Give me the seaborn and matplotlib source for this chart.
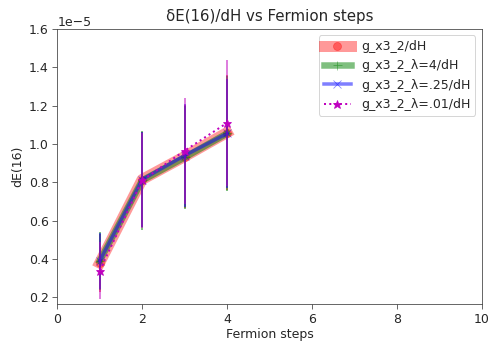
import numpy as np
import matplotlib
matplotlib.use("Agg")
import matplotlib.pyplot as plt
import seaborn as sns

sns.set_style("white")
plt.rcParams['font.family'] = ['DejaVu Sans']
plt.rcParams['font.size'] = 12.5

## Values (units of 1e-5)
steps = [1, 2, 3, 4]
g_base = [0.38, 0.815, 0.935, 1.06]
g_base_err = [0.15, 0.25, 0.27, 0.30]
g_lam4 = [0.39, 0.81, 0.93, 1.055]
g_lam4_err = [0.15, 0.26, 0.27, 0.30]
g_lam025 = [0.39, 0.815, 0.94, 1.055]
g_lam025_err = [0.145, 0.25, 0.27, 0.285]
g_lam001 = [0.34, 0.81, 0.965, 1.11]
g_lam001_err = [0.15, 0.25, 0.276, 0.33]

series = [
    ("g_x3_2/dH", g_base, g_base_err, dict(color="red", lw=11, alpha=0.4, marker="o", markersize=8)),
    ("g_x3_2_λ=4/dH", g_lam4, g_lam4_err, dict(color="green", lw=6.5, alpha=0.5, marker="+", markersize=9)),
    ("g_x3_2_λ=.25/dH", g_lam025, g_lam025_err, dict(color="blue", lw=3.5, alpha=0.5, marker="x", markersize=8)),
    ("g_x3_2_λ=.01/dH", g_lam001, g_lam001_err, dict(color="m", lw=2, alpha=1.0, marker="*", markersize=9, linestyle=":")),
]

fig, ax = plt.subplots(figsize=(489 / 72, 341 / 72), dpi=72)
fig.subplots_adjust(left=0.117, right=0.985, top=0.915, bottom=0.108)

for name, vals, err, style in series:
    y = np.array(vals) * 1e-5
    e = np.array(err) * 1e-5
    ax.errorbar(steps, y, yerr=e, fmt="none", ecolor=style["color"], alpha=0.5, elinewidth=2)
    sns.lineplot(x=steps, y=y, ax=ax, label=name, markeredgecolor=style["color"],
                 solid_capstyle="projecting", **style)

ax.set_xlim(0, 10)
ax.set_ylim(0.165e-5, 1.6e-5)
ax.set_yticks(np.arange(0.2, 1.61, 0.2) * 1e-5)
ax.set_xlabel("Fermion steps", labelpad=2)
ax.set_ylabel("dE(16)")
ax.set_title("δE(16)/dH vs Fermion steps", pad=8)
ax.legend(loc="upper right", handlelength=2.2)
for s in ax.spines.values():
    s.set_color("#444444")
ax.tick_params(axis="both", length=5, direction="out", bottom=True, left=True, color="#444444")

fig.savefig("out.png", dpi=72)
